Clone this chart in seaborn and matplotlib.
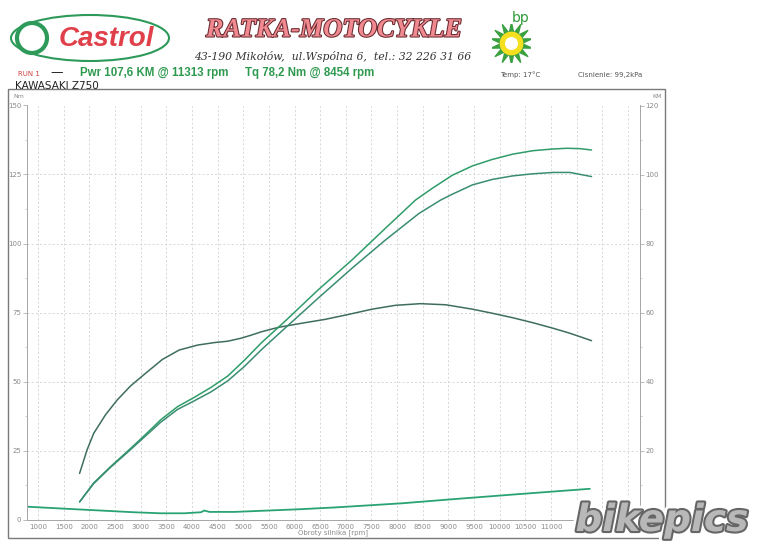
import numpy as np
import pandas as pd
import matplotlib
matplotlib.use("Agg")
import matplotlib.pyplot as plt
import matplotlib.patheffects as pe
from matplotlib.patches import Ellipse, Rectangle
from matplotlib.ticker import MultipleLocator
import seaborn as sns

sns.set_style("white")
plt.rcParams["font.family"] = ["DejaVu Sans"]

# Data

torque_rpm = [1810, 1955, 2085, 2314, 2543, 2804, 3098, 3425, 3751, 4112,
              4437, 4700, 4961, 5157, 5353, 5680, 6137, 6594, 7053, 7510,
              7967, 8454, 8947, 9470, 9863, 10255, 10647, 11039, 11366, 11790]
torque_nm = [16.7, 25.2, 31.2, 37.9, 43.3, 48.4, 53.0, 58.0, 61.4, 63.2,
             64.1, 64.6, 65.7, 66.8, 68.0, 69.6, 71.1, 72.5, 74.3, 76.2,
             77.6, 78.2, 77.8, 76.2, 74.7, 73.1, 71.3, 69.3, 67.5, 64.8]

engine_rpm = [1810, 2085, 2412, 2739, 3065, 3392, 3719, 4045, 4373, 4700,
              5026, 5353, 5810, 6464, 7118, 7771, 8359, 8686, 9078, 9470,
              9863, 10255, 10647, 11039, 11313, 11562, 11790]
engine_km = [5.1, 10.6, 15.3, 19.7, 24.2, 28.9, 32.7, 35.4, 38.3, 41.6,
             46.2, 51.2, 57.4, 66.6, 75.2, 84.4, 92.6, 96.0, 99.8, 102.5,
             104.4, 105.9, 106.9, 107.4, 107.6, 107.5, 107.1]

wheel_rpm = [1810, 2085, 2412, 2739, 3065, 3392, 3719, 4045, 4373, 4700,
             5026, 5353, 5810, 6464, 7118, 7771, 8425, 8850, 9078, 9470,
             9863, 10255, 10647, 11039, 11366, 11790]
wheel_km = [5.1, 10.4, 15.1, 19.4, 23.8, 28.2, 31.9, 34.4, 37.0, 40.2,
            44.4, 49.2, 55.4, 64.2, 72.8, 81.0, 88.7, 92.6, 94.3, 97.0,
            98.6, 99.6, 100.2, 100.6, 100.6, 99.4]

loss_rpm = [800, 1563, 2216, 2869, 3392, 3850, 4176, 4242, 4340, 4830,
            5484, 6137, 6791, 7444, 8098, 9013, 10320, 11758]
loss_km = [3.7, 3.1, 2.6, 2.1, 1.8, 1.8, 2.1, 2.6, 2.2, 2.2,
           2.6, 3.0, 3.5, 4.1, 4.7, 5.8, 7.3, 8.9]

x_ticks = list(range(1000, 13000, 500))
x_labels = [str(t) if t <= 11000 else "" for t in x_ticks]
km_ticks = list(range(0, 121, 20))
km_labels = [str(t) if t > 0 else "" for t in km_ticks]

W, H = 768, 546


def fx(px):
    return px / W


def fy(py):
    return 1 - py / H


fig = plt.figure(figsize=(7.68, 5.46), dpi=100)
fig.patch.set_facecolor("white")

ax = fig.add_axes([fx(27), fy(519.5), (640 - 27) / W, (519.5 - 105.5) / H])
ax2 = ax.twinx()

grid_kw = dict(color="#d2d2d2", lw=0.6, ls=(0, (2.5, 2.5)))

sns.lineplot(x=torque_rpm, y=torque_nm, ax=ax, color="#3f6e5e", lw=1.1)
sns.lineplot(x=engine_rpm, y=engine_km, ax=ax2, color="#2f9c6a", lw=1.1)
sns.lineplot(x=wheel_rpm, y=wheel_km, ax=ax2, color="#3a8d72", lw=1.1)
sns.lineplot(x=loss_rpm, y=loss_km, ax=ax2, color="#2aa374", lw=1.3)

ax.set_xlim(785, 12735)
ax.set_ylim(0, 150)
ax2.set_ylim(0, 120)

ax.set_xticks(x_ticks)
ax.set_xticklabels(x_labels)
ax.xaxis.set_minor_locator(MultipleLocator(100))
ax.yaxis.set_major_locator(MultipleLocator(25))
ax.yaxis.set_minor_locator(MultipleLocator(12.5))
ax2.set_yticks(km_ticks)
ax2.set_yticklabels(km_labels)
ax2.yaxis.set_minor_locator(MultipleLocator(10))

ax.grid(True, which="major", **grid_kw)
ax.set_axisbelow(True)

for a in (ax, ax2):
    a.set_xlabel("")
    a.set_ylabel("")
    for s in a.spines.values():
        s.set_color("#a8a8a8")
        s.set_linewidth(0.7)
    a.spines["top"].set_visible(False)
    a.tick_params(colors="#a0a0a0", labelsize=5, width=0.5)
    a.tick_params(which="major", length=3)
    a.tick_params(which="minor", length=1.5, width=0.4, colors="#a8a8a8")
    a.tick_params(axis="both", labelcolor="#8a8a8a")
ax.tick_params(axis="x", which="both", direction="inout", pad=1.5)
ax.tick_params(axis="y", pad=1)
ax2.tick_params(axis="y", pad=1)

fig.text(fx(13), fy(97), "Nm", fontsize=4.5, color="#8a8a8a", va="center")
fig.text(fx(652), fy(97), "KM", fontsize=4.5, color="#8a8a8a", va="center")
fig.text(fx(333), fy(533), "Obroty silnika [rpm]", fontsize=5,
         color="#8a8a8a", ha="center", va="center")

# outer frame
fig.add_artist(Rectangle((fx(8), fy(538)), (665 - 8) / W, (538 - 89) / H,
                         transform=fig.transFigure, fill=False,
                         edgecolor="#7a7a7a", lw=1.0))

# Castrol logo
fig.add_artist(Ellipse((fx(90), fy(38)), 158 / W, 46 / H,
                       transform=fig.transFigure, fill=False,
                       edgecolor="#2e9a5a", lw=1.5))
fig.add_artist(Ellipse((fx(32), fy(38)), 30 / W, 30 / H,
                       transform=fig.transFigure, facecolor="white",
                       edgecolor="#2e9a5a", lw=3))
fig.text(fx(106), fy(39), "Castrol", fontsize=20, fontweight="bold",
         fontstyle="italic", color="#e0404a", ha="center", va="center",
         family=["Liberation Sans"])

# workshop name
fig.text(fx(334), fy(30), "RATKA-MOTOCYKLE", fontsize=19,
         fontweight="bold", fontstyle="italic", color="#f08a90",
         ha="center", va="center", family=["Liberation Serif"],
         path_effects=[pe.Stroke(linewidth=1.5, foreground="#6a2a30"),
                       pe.Normal()])
fig.text(fx(333), fy(56), "43-190 Mikołów,  ul.Wspólna 6,  tel.: 32 226 31 66",
         fontsize=7.8, fontstyle="italic", color="#333333", ha="center",
         va="center", family=["DejaVu Serif"])

# bp logo
fig.text(fx(521), fy(18), "bp", fontsize=10, color="#2e9a3a",
         ha="center", va="center")
bp_ax = fig.add_axes([fx(492), fy(62), 38 / W, 38 / H])
bp_ax.scatter([0], [0], s=900, marker=(14, 1, 0), color="#3aa040")
bp_ax.scatter([0], [0], s=260, marker="o", color="#f5e020")
bp_ax.scatter([0], [0], s=70, marker="o", color="#ffffff")
bp_ax.set_xlim(-1, 1)
bp_ax.set_ylim(-1, 1)
bp_ax.axis("off")

# run info line
fig.text(fx(18), fy(74), "RUN 1", fontsize=5, color="#d04040", va="center")
fig.text(fx(50), fy(73), "—", fontsize=9, color="#222222", va="center")
fig.text(fx(80), fy(73), "Pwr 107,6 KM @ 11313 rpm", fontsize=8.3,
         fontweight="bold", color="#2e9a50", va="center",
         family=["Liberation Sans"])
fig.text(fx(245), fy(73), "Tq 78,2 Nm @ 8454 rpm", fontsize=8.3,
         fontweight="bold", color="#2e9a50", va="center",
         family=["Liberation Sans"])
fig.text(fx(500), fy(75), "Temp: 17°C", fontsize=5, color="#555555",
         va="center")
fig.text(fx(578), fy(75), "Cisnienie: 99,2kPa", fontsize=5, color="#555555",
         va="center")
fig.text(fx(15), fy(86), "KAWASAKI Z750", fontsize=7.5, color="#222222",
         va="center")

# watermark
fig.text(fx(662), fy(521), "bikepics", fontsize=27, fontweight="bold",
         fontstyle="italic", color="#b8b8b8", ha="center", va="center",
         path_effects=[pe.Stroke(linewidth=7, foreground="white"),
                       pe.Stroke(linewidth=3, foreground="#666666"),
                       pe.Normal()])

plt.savefig("out.png", dpi=100)
plt.close()
